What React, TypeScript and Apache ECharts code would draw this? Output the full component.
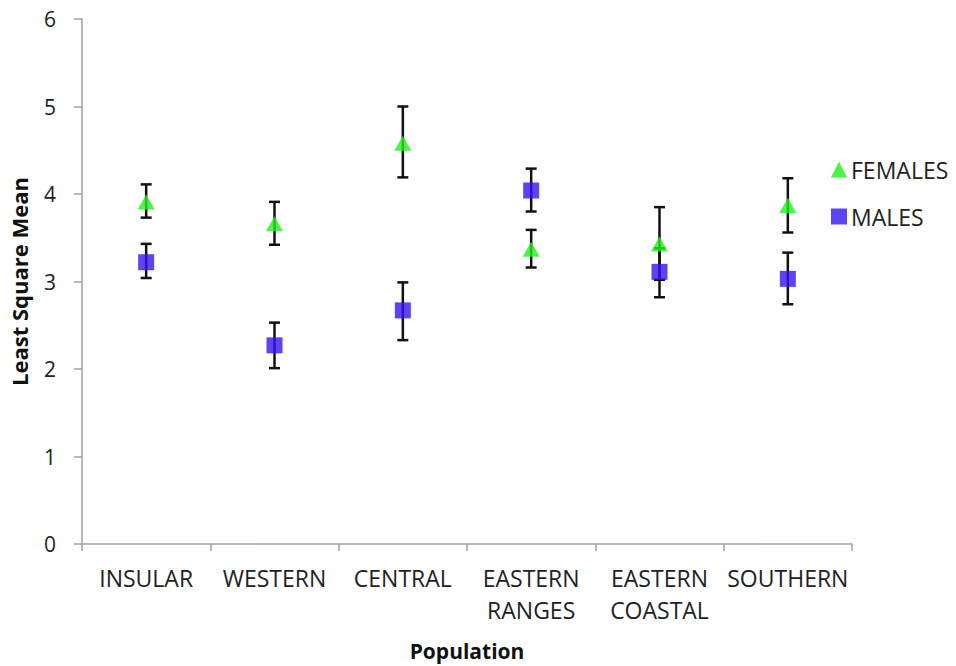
import React, { useEffect, useRef } from "react";
import * as echarts from "echarts";

const categories = ["INSULAR", "WESTERN", "CENTRAL", "EASTERN\nRANGES", "EASTERN\nCOASTAL", "SOUTHERN"];
const femaleMean = [3.91, 3.66, 4.58, 3.37, 3.43, 3.87];
const femaleLow = [3.73, 3.42, 4.19, 3.16, 3.02, 3.56];
const femaleHigh = [4.11, 3.91, 5.0, 3.59, 3.85, 4.18];
const maleMean = [3.22, 2.27, 2.67, 4.04, 3.11, 3.03];
const maleLow = [3.04, 2.01, 2.33, 3.8, 2.82, 2.74];
const maleHigh = [3.43, 2.53, 2.99, 4.29, 3.38, 3.33];
const yTicks = [0, 1, 2, 3, 4, 5, 6];

const FONT = "'Open Sans', sans-serif";
const GREEN = "#1FF01A";
const BLUE = "#3414EE";

function errData(lo: number[], hi: number[]) {
  return lo.map((l, i) => [i, l, hi[i]]);
}

const renderErr = (params: any, api: any) => {
  const x = api.value(0);
  const top = api.coord([x, api.value(2)]);
  const bot = api.coord([x, api.value(1)]);
  const hw = 5.5;
  const style = { stroke: "#111", lineWidth: 2.5 };
  return {
    type: "group",
    children: [
      { type: "line", shape: { x1: top[0], y1: top[1], x2: bot[0], y2: bot[1] }, style },
      { type: "line", shape: { x1: top[0] - hw, y1: top[1], x2: top[0] + hw, y2: top[1] }, style },
      { type: "line", shape: { x1: bot[0] - hw, y1: bot[1], x2: bot[0] + hw, y2: bot[1] }, style },
    ],
  };
};

export default function App() {
  const ref = useRef<HTMLDivElement>(null);
  useEffect(() => {
    if (!ref.current) return;
    const chart = echarts.init(ref.current, null, { renderer: "svg" });
    chart.setOption({
      animation: false,
      backgroundColor: "#fff",
      grid: { left: 82, right: 104, top: 19, bottom: 118, containLabel: false },
      legend: {
        orient: "vertical",
        left: 826,
        top: 153,
        itemWidth: 16,
        itemHeight: 16,
        itemGap: 24,
        textStyle: { fontFamily: FONT, fontSize: 23, color: "#222", padding: [0, 0, 0, -1] },
        data: [
          { name: "FEMALES", icon: "triangle" },
          { name: "MALES", icon: "rect" },
        ],
      },
      xAxis: {
        type: "category",
        data: categories,
        boundaryGap: true,
        name: "Population",
        nameLocation: "middle",
        nameGap: 96,
        nameTextStyle: { fontFamily: FONT, fontSize: 21, fontWeight: "bold", color: "#111" },
        axisLine: { lineStyle: { color: "#a0a0a0", width: 1.5 } },
        axisTick: { show: true, alignWithLabel: false, length: 7, lineStyle: { color: "#a0a0a0", width: 1.5 } },
        axisLabel: { fontFamily: FONT, fontSize: 23, color: "#222", margin: 18, lineHeight: 32, interval: 0 },
        splitLine: { show: false },
      },
      yAxis: {
        type: "value",
        min: 0,
        max: 6,
        interval: 1,
        name: "Least Square Mean",
        nameLocation: "middle",
        nameGap: 52,
        nameRotate: 90,
        nameTextStyle: { fontFamily: FONT, fontSize: 22, fontWeight: "bold", color: "#111" },
        axisLine: { show: true, lineStyle: { color: "#a0a0a0", width: 1.5 } },
        axisTick: { show: true, length: 8, lineStyle: { color: "#a0a0a0", width: 1.5 } },
        axisLabel: {
          fontFamily: FONT,
          fontSize: 21,
          color: "#222",
          margin: 26,
          formatter: (v: number) => (yTicks.includes(v) ? String(v) : ""),
        },
        splitLine: { show: false },
      },
      series: [
        {
          type: "custom",
          name: "femErr",
          renderItem: renderErr,
          data: errData(femaleLow, femaleHigh),
          z: 1,
          silent: true,
        },
        {
          type: "custom",
          name: "maleErr",
          renderItem: renderErr,
          data: errData(maleLow, maleHigh),
          z: 1,
          silent: true,
        },
        {
          type: "scatter",
          name: "FEMALES",
          symbol: "triangle",
          symbolSize: [17, 15],
          itemStyle: { color: GREEN },
          data: femaleMean,
          z: 3,
        },
        {
          type: "scatter",
          name: "MALES",
          symbol: "rect",
          symbolSize: 16,
          itemStyle: { color: BLUE },
          data: maleMean,
          z: 4,
        },
      ],
    });
    return () => chart.dispose();
  }, []);
  return (
    <div
      ref={ref}
      style={{ position: "fixed", left: 0, top: 0, width: 956, height: 666, background: "#fff" }}
    />
  );
}
